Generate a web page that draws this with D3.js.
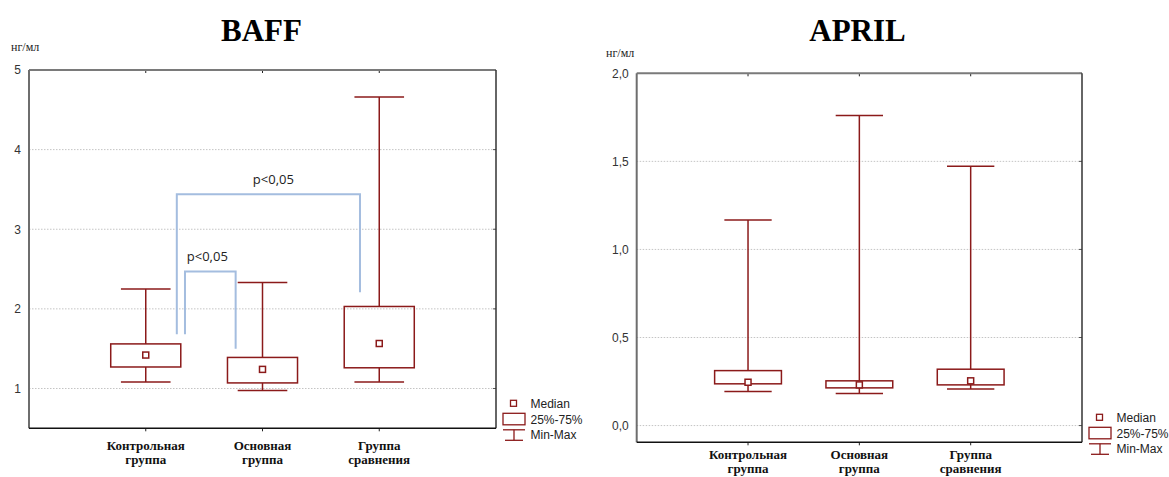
<!DOCTYPE html>
<html>
<head>
<meta charset="utf-8">
<script src="https://cdn.jsdelivr.net/npm/d3@7"></script>
<style>
  html, body { margin: 0; padding: 0; background: #fff; }
  svg { display: block; }
</style>
</head>
<body>
<svg id="chart" width="1169" height="477"></svg>
<script>
// ---------- DATA ----------
const categories = ["Контрольная\nгруппа", "Основная\nгруппа", "Группа\nсравнения"];

const baffMin    = [1.08, 0.975, 1.08];
const baffQ1     = [1.27, 1.07, 1.26];
const baffMedian = [1.42, 1.24, 1.565];
const baffQ3     = [1.56, 1.39, 2.03];
const baffMax    = [2.25, 2.33, 4.66];
const baffTicks  = [1, 2, 3, 4, 5];

const aprilMin    = [0.193, 0.182, 0.208];
const aprilQ1     = [0.237, 0.214, 0.231];
const aprilMedian = [0.246, 0.231, 0.254];
const aprilQ3     = [0.312, 0.254, 0.32];
const aprilMax    = [1.167, 1.76, 1.472];
const aprilTicks  = [0, 0.5, 1.0, 1.5, 2.0];

// significance brackets (BAFF)
const sigFrom     = [0, 0];
const sigTo       = [2, 1];
const sigLevel    = [3.44, 2.47];
const sigFromEnd  = [1.68, 1.68];
const sigToEnd    = [2.21, 1.50];
const sigLabels   = ["p<0,05", "p<0,05"];

const legendLabels = ["Median", "25%-75%", "Min-Max"];
const unitLabel = "нг/мл";

// ---------- STYLE ----------
const RED = "#8b1a1a";
const svg = d3.select("#chart");
const locale = d3.formatLocale({decimal: ",", thousands: " ", grouping: [3], currency: ["", ""]});

function panel(cfg) {
  const {title, titleX, x0, x1, y0, y1, domain, ticks, fmt, mins, q1s, meds, q3s, maxs,
         unitX, unitY, catY} = cfg;
  const g = svg.append("g");
  const x = d3.scalePoint().domain(categories).range([x0, x1]).padding(1);
  const y = d3.scaleLinear().domain(domain).range([y1, y0]);
  const step = x.step();
  const boxW = step * 0.6, capW = step * 0.425;

  // title
  g.append("text").attr("x", titleX).attr("y", 40.5).attr("text-anchor", "middle")
    .attr("font-family", "Liberation Serif, Times New Roman, serif").attr("font-weight", "bold")
    .attr("font-size", 31).attr("fill", "#000").text(title);
  // unit
  g.append("text").attr("x", unitX).attr("y", unitY)
    .attr("font-family", "Liberation Serif, Times New Roman, serif")
    .attr("font-size", 12).attr("fill", "#222").text(unitLabel);

  // grid
  g.append("g").selectAll("line").data(ticks.filter(t => y(t) > y0 + 1)).join("line")
    .attr("x1", x0).attr("x2", x1).attr("y1", d => y(d)).attr("y2", d => y(d))
    .attr("stroke", "#c4c4c4").attr("stroke-width", 1).attr("stroke-dasharray", "1.5,1.5");

  // left axis
  const ax = g.append("g").attr("transform", `translate(${x0},0)`)
    .call(d3.axisLeft(y).tickValues(ticks).tickSize(0).tickPadding(8).tickFormat(locale.format(fmt)));
  ax.select(".domain").remove();
  ax.selectAll("text").attr("font-family", "Liberation Sans, Arial, sans-serif")
    .attr("font-size", 12).attr("fill", "#333");

  // right tick marks
  g.append("g").selectAll("line").data(ticks).join("line")
    .attr("x1", x1 - 3).attr("x2", x1).attr("y1", d => y(d)).attr("y2", d => y(d))
    .attr("stroke", "#555").attr("stroke-width", 1);
  // top tick marks
  g.append("g").selectAll("line").data(categories).join("line")
    .attr("x1", d => x(d)).attr("x2", d => x(d)).attr("y1", y0).attr("y2", y0 + 3)
    .attr("stroke", "#222").attr("stroke-width", 1);
  // bottom tick marks
  g.append("g").selectAll("line").data(categories).join("line")
    .attr("x1", d => x(d)).attr("x2", d => x(d)).attr("y1", y1).attr("y2", y1 + 3)
    .attr("stroke", "#222").attr("stroke-width", 1);

  // frame
  g.append("line").attr("x1", x0).attr("x2", x1).attr("y1", y0).attr("y2", y0)
    .attr("stroke", "#7a7a7a").attr("stroke-width", 2);
  g.append("line").attr("x1", x0).attr("x2", x0).attr("y1", y0).attr("y2", y1)
    .attr("stroke", "#6e6e6e").attr("stroke-width", 2);
  g.append("line").attr("x1", x1).attr("x2", x1).attr("y1", y0).attr("y2", y1)
    .attr("stroke", "#333").attr("stroke-width", 1.5);
  g.append("line").attr("x1", x0).attr("x2", x1).attr("y1", y1).attr("y2", y1)
    .attr("stroke", "#111").attr("stroke-width", 1.5);

  // category labels
  const cl = g.append("g").selectAll("text").data(categories).join("text")
    .attr("x", d => x(d)).attr("y", catY).attr("text-anchor", "middle")
    .attr("font-family", "Liberation Serif, Times New Roman, serif").attr("font-weight", "bold")
    .attr("font-size", 13).attr("fill", "#111");
  cl.each(function(d) {
    const lines = d.split("\n");
    d3.select(this).selectAll("tspan").data(lines).join("tspan")
      .attr("x", x(d)).attr("dy", (l, i) => i === 0 ? 0 : 13.5).text(l => l);
  });

  // boxes
  const bx = g.append("g").selectAll("g").data(categories).join("g");
  bx.append("line").attr("x1", d => x(d)).attr("x2", d => x(d))
    .attr("y1", (d, i) => y(maxs[i])).attr("y2", (d, i) => y(q3s[i]))
    .attr("stroke", RED).attr("stroke-width", 1.5);
  bx.append("line").attr("x1", d => x(d)).attr("x2", d => x(d))
    .attr("y1", (d, i) => y(q1s[i])).attr("y2", (d, i) => y(mins[i]))
    .attr("stroke", RED).attr("stroke-width", 1.5);
  bx.append("line").attr("x1", d => x(d) - capW / 2).attr("x2", d => x(d) + capW / 2)
    .attr("y1", (d, i) => y(maxs[i])).attr("y2", (d, i) => y(maxs[i]))
    .attr("stroke", RED).attr("stroke-width", 1.5);
  bx.append("line").attr("x1", d => x(d) - capW / 2).attr("x2", d => x(d) + capW / 2)
    .attr("y1", (d, i) => y(mins[i])).attr("y2", (d, i) => y(mins[i]))
    .attr("stroke", RED).attr("stroke-width", 1.5);
  bx.append("rect").attr("x", d => x(d) - boxW / 2).attr("width", boxW)
    .attr("y", (d, i) => y(q3s[i])).attr("height", (d, i) => y(q1s[i]) - y(q3s[i]))
    .attr("fill", "none").attr("stroke", RED).attr("stroke-width", 1.5);
  bx.append("rect").attr("x", d => x(d) - 3).attr("width", 6)
    .attr("y", (d, i) => y(meds[i]) - 3).attr("height", 6)
    .attr("fill", "#fff").attr("stroke", RED).attr("stroke-width", 1.5);

  // legend
  const lg = g.append("g").attr("transform", `translate(${x1},${y1})`);
  const lf = t => t.attr("font-family", "Liberation Sans, Arial, sans-serif").attr("font-size", 12).attr("fill", "#222");
  lg.append("rect").attr("x", 14.5).attr("y", -28).attr("width", 6).attr("height", 6)
    .attr("fill", "#fff").attr("stroke", RED).attr("stroke-width", 1.3);
  lg.append("rect").attr("x", 7).attr("y", -15).attr("width", 22).attr("height", 11.5)
    .attr("fill", "#fff").attr("stroke", RED).attr("stroke-width", 1.3);
  lg.append("line").attr("x1", 7).attr("x2", 29).attr("y1", 1.5).attr("y2", 1.5).attr("stroke", RED).attr("stroke-width", 1.3);
  lg.append("line").attr("x1", 18).attr("x2", 18).attr("y1", 1.5).attr("y2", 12).attr("stroke", RED).attr("stroke-width", 1.3);
  lg.append("line").attr("x1", 9).attr("x2", 27).attr("y1", 12).attr("y2", 12).attr("stroke", RED).attr("stroke-width", 1.3);
  lf(lg.append("text").attr("x", 34.5).attr("y", -20.5).text(legendLabels[0]));
  lf(lg.append("text").attr("x", 34.5).attr("y", -4.3).text(legendLabels[1]));
  lf(lg.append("text").attr("x", 34.5).attr("y", 11).text(legendLabels[2]));

  return {g, x, y, step};
}

const baff = panel({
  title: "BAFF", titleX: 261.5, x0: 29, x1: 496, y0: 70, y1: 428.3,
  domain: [0.5, 5], ticks: baffTicks, fmt: "d",
  mins: baffMin, q1s: baffQ1, meds: baffMedian, q3s: baffQ3, maxs: baffMax,
  unitX: 11, unitY: 51, catY: 450
});

panel({
  title: "APRIL", titleX: 857.5, x0: 636.7, x1: 1082, y0: 73.3, y1: 442.3,
  domain: [-0.095, 2.0], ticks: aprilTicks, fmt: ".1f",
  mins: aprilMin, q1s: aprilQ1, meds: aprilMedian, q3s: aprilQ3, maxs: aprilMax,
  unitX: 606, unitY: 56.5, catY: 459.3
});

// significance brackets on BAFF
const fromOff = [0.266, 0.336];
const toOff = [-0.165, -0.23];
const sg = baff.g.append("g");
sigFrom.forEach((f, i) => {
  const xa = baff.x(categories[f]) + fromOff[i] * baff.step;
  const xb = baff.x(categories[sigTo[i]]) + toOff[i] * baff.step;
  const yl = baff.y(sigLevel[i]);
  sg.append("path")
    .attr("d", d3.line()([[xa, baff.y(sigFromEnd[i])], [xa, yl], [xb, yl], [xb, baff.y(sigToEnd[i])]]))
    .attr("fill", "none").attr("stroke", "#a4bddf").attr("stroke-width", 2);
  sg.append("text").attr("x", (xa + xb) / 2 + (i === 0 ? 5 : -3)).attr("y", yl - 10)
    .attr("text-anchor", "middle").attr("font-family", "Open Sans, Liberation Sans, sans-serif")
    .attr("font-size", 13).attr("fill", "#222").text(sigLabels[i]);
});
</script>
</body>
</html>
